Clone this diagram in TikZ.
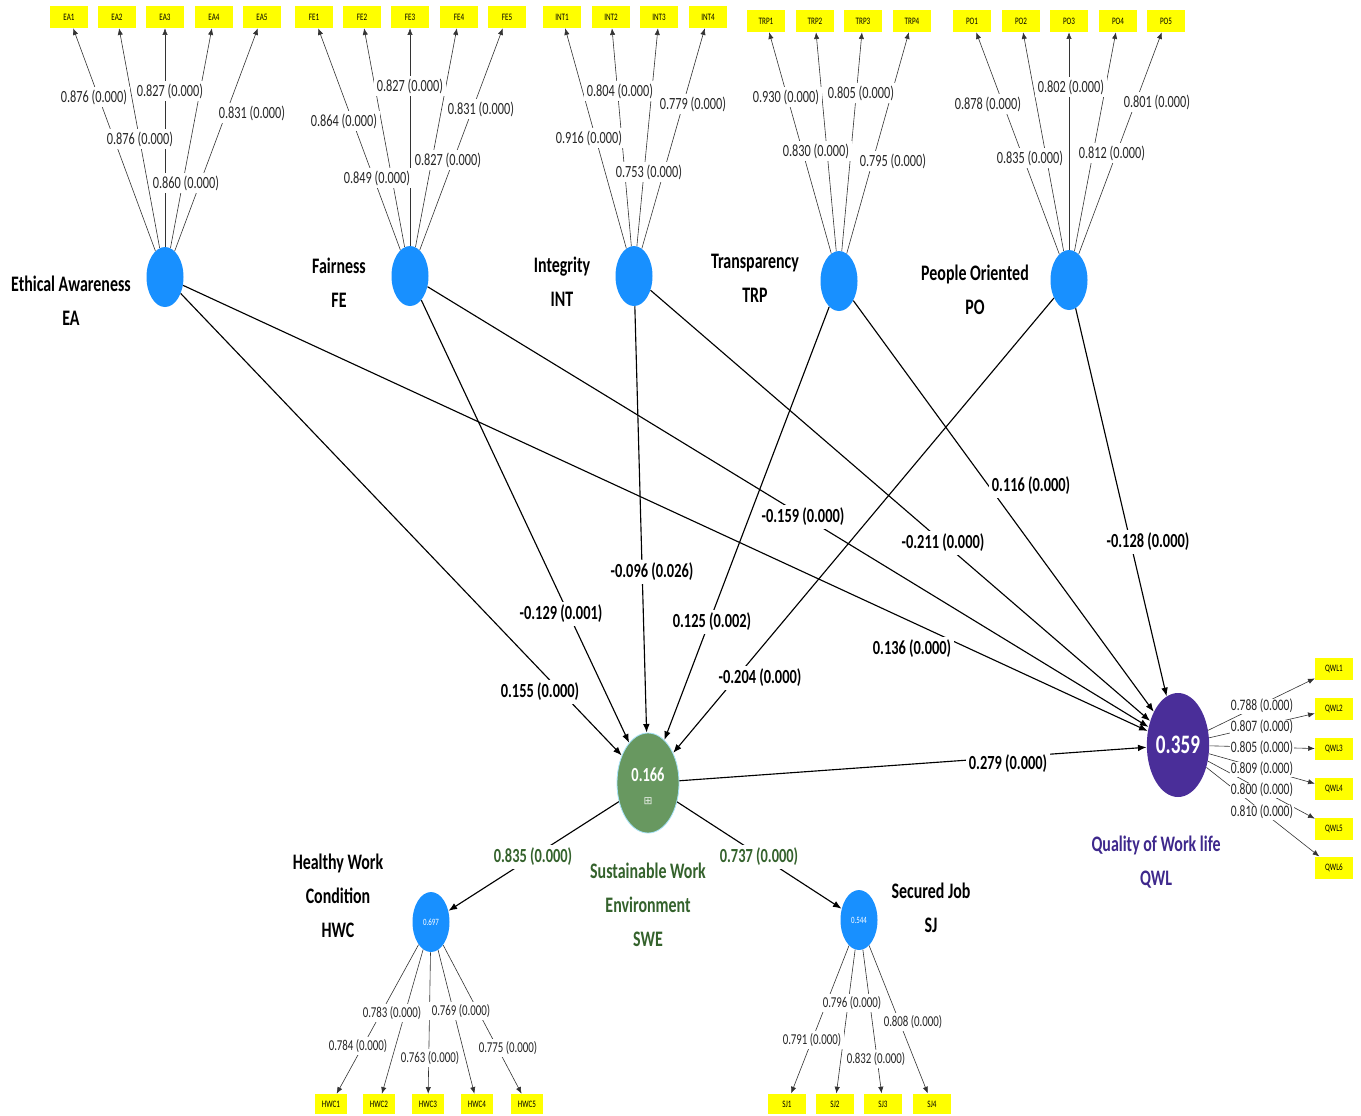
\documentclass[tikz,border=0pt]{standalone}
\usepackage{fontspec}
\setmainfont{Carlito}[FakeStretch=0.72]
\newfontfamily\symfont{DejaVu Sans}
\usetikzlibrary{shapes.geometric,arrows.meta}
\definecolor{latblue}{RGB}{24,144,255}
\definecolor{swegreen}{RGB}{104,152,96}
\definecolor{qwlpurple}{RGB}{74,46,153}
\definecolor{txtgreen}{RGB}{52,98,44}
\definecolor{txtpurple}{RGB}{62,40,140}
\definecolor{indyellow}{RGB}{255,255,0}
\newcommand{\namefont}{\fontsize{16.6}{25.5}\selectfont\bfseries}
\newcommand{\coeffont}{\fontsize{15}{17}\selectfont\bfseries}
\newcommand{\lblfont}{\fontsize{12.8}{14}\selectfont}
\newcommand{\lblsmall}{\fontsize{11.3}{13}\selectfont}
\newcommand{\lblqwl}{\fontsize{12}{13}\selectfont}
\newcommand{\boxfont}{\fontsize{7.4}{9}\selectfont}
\tikzset{
  lat/.style={ellipse, fill=latblue, inner sep=0pt, minimum width=27.75pt, minimum height=45pt},
  indbox/.style={rectangle, fill=indyellow, inner sep=0pt, minimum width=28.5pt, minimum height=16.5pt, font=\boxfont},
  iline/.style={draw=black!80, line width=0.45pt, -{Latex[length=5pt,width=4pt]}},
  sline/.style={draw=black, line width=0.85pt, -{Latex[length=6.5pt,width=5pt]}},
  lbl/.style={fill=white, inner sep=2pt, font=\lblfont, text=black!85},
  lbls/.style={fill=white, inner sep=2pt, font=\lblsmall, text=black!85},
  lblq/.style={fill=white, inner sep=0.4pt, font=\lblqwl, text=black!85},
  coef/.style={fill=white, inner sep=2.5pt, font=\coeffont},
  lvname/.style={font=\namefont, align=center}
}
\begin{document}
\begin{tikzpicture}[x=0.75pt,y=-0.75pt]
\useasboundingbox (0,0) rectangle (1361,1115);
\fill[white] (0,0) rectangle (1361,1115);

% latent variables
\node[lat] (EA) at (165,277) {};
\node[lat] (FE) at (410,276) {};
\node[lat] (INT) at (634,276) {};
\node[lat] (TRP) at (839,281) {};
\node[lat] (PO) at (1069,280) {};
\node[lat, text=white, font=\fontsize{7.2}{8}\selectfont] (HWC) at (431,922) {0.697};
\node[lat, text=white, font=\fontsize{7.2}{8}\selectfont] (SJ) at (859,920) {0.544};
\node[ellipse, fill=swegreen, draw=cyan!35, line width=0.6pt, inner sep=0pt, minimum width=46.5pt, minimum height=75pt] (SWE) at (648,783) {};
\node[text=white, font=\fontsize{15}{17}\selectfont\bfseries] (SWEval) at (648,775) {0.166};
\node[text=white!85!swegreen, font=\symfont\fontsize{8}{9}\selectfont] (SWEicon) at (648,801) {⊞};
\node[ellipse, fill=qwlpurple, inner sep=0pt, minimum width=45pt, minimum height=78pt, text=white, font=\fontsize{20}{22}\selectfont\bfseries] (QWL) at (1178,745) {0.359};

% latent names
\node[lvname] (nEA) at (71,301) {Ethical Awareness\\EA};
\node[lvname] (nFE) at (339,283) {Fairness\\FE};
\node[lvname] (nINT) at (562,282) {Integrity\\INT};
\node[lvname] (nTRP) at (755,278) {Transparency\\TRP};
\node[lvname] (nPO) at (975,290) {People Oriented\\PO};
\node[lvname] (nHWC) at (338,896) {Healthy Work\\Condition\\HWC};
\node[lvname] (nSJ) at (931,908) {Secured Job\\SJ};
\node[lvname, text=txtgreen] (nSWE) at (648,905) {Sustainable Work\\Environment\\SWE};
\node[lvname, text=txtpurple] (nQWL) at (1156,862) {Quality of Work life\\QWL};

% indicators
\foreach \n/\x in {1/69,2/117,3/165,4/214,5/262} \node[indbox] (EA\n) at (\x,17) {EA\n};
\foreach \n/\x in {1/314,2/362,3/410,4/459,5/507} \node[indbox] (FE\n) at (\x,17) {FE\n};
\foreach \n/\x in {1/562,2/611,3/659,4/708} \node[indbox] (INT\n) at (\x,17) {INT\n};
\foreach \n/\x in {1/766,2/815,3/863,4/912} \node[indbox] (TRP\n) at (\x,21) {TRP\n};
\foreach \n/\x in {1/972,2/1021,3/1069,4/1118,5/1166} \node[indbox] (PO\n) at (\x,21) {PO\n};
\foreach \n/\x in {1/331,2/379,3/428,4/477,5/527} \node[indbox, minimum width=24pt, minimum height=15pt] (HWC\n) at (\x,1104) {HWC\n};
\foreach \n/\x in {1/787,2/835,3/883,4/932} \node[indbox, minimum height=15.5pt] (SJ\n) at (\x,1104) {SJ\n};
\foreach \n/\y in {1/669,2/709,3/749,4/789,5/829,6/868} \node[indbox, minimum height=17pt] (QWL\n) at (1334,\y) {QWL\n};

% indicator lines
\foreach \n in {1,...,5} \draw[iline] (EA) -- (EA\n);
\foreach \n in {1,...,5} \draw[iline] (FE) -- (FE\n);
\foreach \n in {1,...,4} \draw[iline] (INT) -- (INT\n);
\foreach \n in {1,...,4} \draw[iline] (TRP) -- (TRP\n);
\foreach \n in {1,...,5} \draw[iline] (PO) -- (PO\n);
\foreach \n in {1,...,5} \draw[iline] (HWC) -- (HWC\n);
\foreach \n in {1,...,4} \draw[iline] (SJ) -- (SJ\n);
\foreach \n in {1,...,6} \draw[iline] (QWL) -- (QWL\n);

% structural paths
\draw[sline] (EA) -- (SWE);
\draw[sline] (EA) -- (QWL);
\draw[sline] (FE) -- (SWE);
\draw[sline] (FE) -- (QWL);
\draw[sline] (INT) -- (SWE);
\draw[sline] (INT) -- (QWL);
\draw[sline] (TRP) -- (SWE);
\draw[sline] (TRP) -- (QWL);
\draw[sline] (PO) -- (SWE);
\draw[sline] (PO) -- (QWL);
\draw[sline] (SWE) -- (QWL);
\draw[sline] (SWE) -- (HWC);
\draw[sline] (SWE) -- (SJ);

% outer loading labels
\node[lbl] (lEA1) at (94,97) {0.876 (0.000)};
\node[lbl] (lEA2) at (140,139) {0.876 (0.000)};
\node[lbl] (lEA3) at (170,91) {0.827 (0.000)};
\node[lbl] (lEA4) at (186,183) {0.860 (0.000)};
\node[lbl] (lEA5) at (252,113) {0.831 (0.000)};
\node[lbl] (lFE1) at (344,121) {0.864 (0.000)};
\node[lbl] (lFE2) at (377,178) {0.849 (0.000)};
\node[lbl] (lFE3) at (410,86) {0.827 (0.000)};
\node[lbl] (lFE4) at (448,160) {0.827 (0.000)};
\node[lbl] (lFE5) at (481,109) {0.831 (0.000)};
\node[lbl] (lINT1) at (589,138) {0.916 (0.000)};
\node[lbl] (lINT2) at (620,91) {0.804 (0.000)};
\node[lbl] (lINT3) at (649,172) {0.753 (0.000)};
\node[lbl] (lINT4) at (693,104) {0.779 (0.000)};
\node[lbl] (lTRP1) at (786,97) {0.930 (0.000)};
\node[lbl] (lTRP2) at (816,151) {0.830 (0.000)};
\node[lbl] (lTRP3) at (861,93) {0.805 (0.000)};
\node[lbl] (lTRP4) at (893,161) {0.795 (0.000)};
\node[lbl] (lPO1) at (988,104) {0.878 (0.000)};
\node[lbl] (lPO2) at (1030,158) {0.835 (0.000)};
\node[lbl] (lPO3) at (1071,87) {0.802 (0.000)};
\node[lbl] (lPO4) at (1112,153) {0.812 (0.000)};
\node[lbl] (lPO5) at (1157,102) {0.801 (0.000)};
\node[lbls] (lHWC1) at (358,1046) {0.784 (0.000)};
\node[lbls] (lHWC2) at (392,1013) {0.783 (0.000)};
\node[lbls] (lHWC3) at (430,1058) {0.763 (0.000)};
\node[lbls] (lHWC4) at (461,1011) {0.769 (0.000)};
\node[lbls] (lHWC5) at (508,1048) {0.775 (0.000)};
\node[lbls] (lSJ1) at (812,1040) {0.791 (0.000)};
\node[lbls] (lSJ2) at (852,1003) {0.796 (0.000)};
\node[lbls] (lSJ3) at (876,1059) {0.832 (0.000)};
\node[lbls] (lSJ4) at (913,1022) {0.808 (0.000)};
\node[lblq] (lQWL1) at (1262,706) {0.788 (0.000)};
\node[lblq] (lQWL2) at (1262,727) {0.807 (0.000)};
\node[lblq] (lQWL3) at (1262,748) {0.805 (0.000)};
\node[lblq] (lQWL4) at (1262,769) {0.809 (0.000)};
\node[lblq] (lQWL5) at (1262,790) {0.800 (0.000)};
\node[lblq] (lQWL6) at (1262,812) {0.810 (0.000)};

% path coefficient labels
\node[coef] (cEASWE) at (540,692) {0.155 (0.000)};
\node[coef] (cEAQWL) at (912,649) {0.136 (0.000)};
\node[coef] (cFESWE) at (561,614) {-0.129 (0.001)};
\node[coef] (cFEQWL) at (803,517) {-0.159 (0.000)};
\node[coef] (cINTSWE) at (652,572) {-0.096 (0.026)};
\node[coef] (cINTQWL) at (943,543) {-0.211 (0.000)};
\node[coef] (cTRPSWE) at (712,622) {0.125 (0.002)};
\node[coef] (cTRPQWL) at (1031,486) {0.116 (0.000)};
\node[coef] (cPOSWE) at (760,678) {-0.204 (0.000)};
\node[coef] (cPOQWL) at (1148,542) {-0.128 (0.000)};
\node[coef] (cSWEQWL) at (1008,764) {0.279 (0.000)};
\node[coef, text=txtgreen] (cSWEHWC) at (533,857) {0.835 (0.000)};
\node[coef, text=txtgreen] (cSWESJ) at (759,857) {0.737 (0.000)};
\end{tikzpicture}
\end{document}
